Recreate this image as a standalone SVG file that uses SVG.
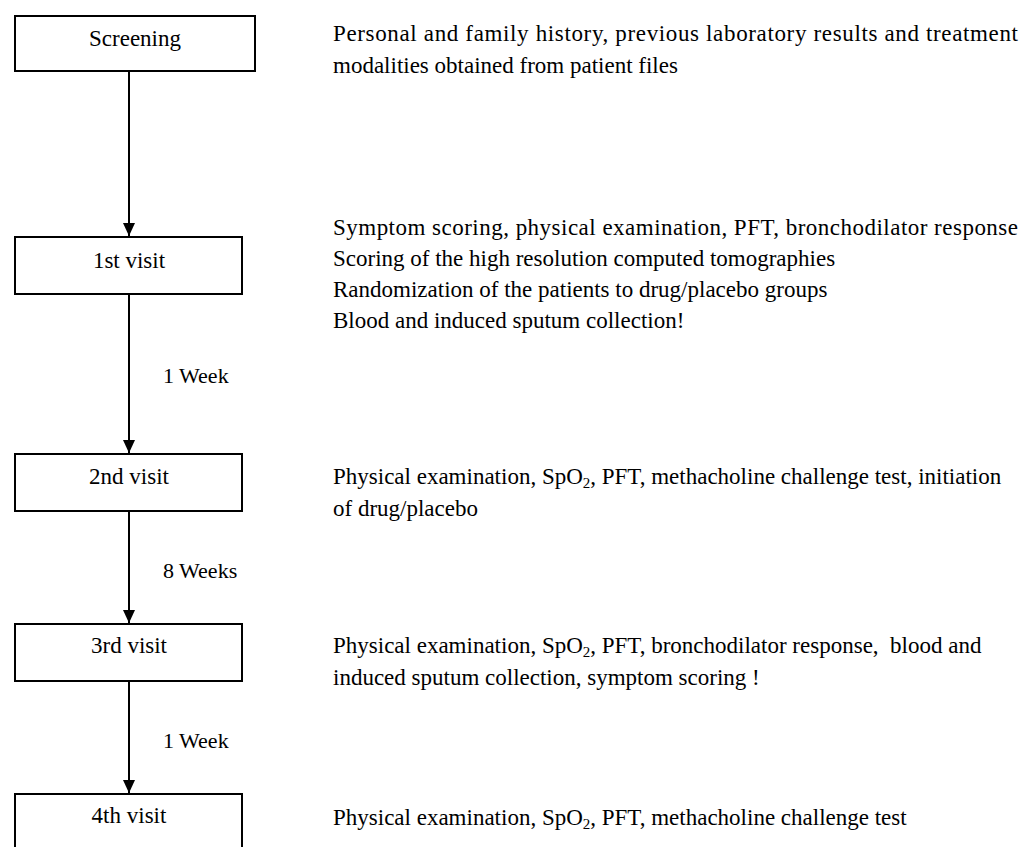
<svg xmlns="http://www.w3.org/2000/svg" width="1022" height="847" viewBox="0 0 1022 847">
<style>
text{font-family:"Liberation Serif","Times New Roman",serif;font-size:23px;fill:#000}
.box{fill:#fff;stroke:#000;stroke-width:2}
.lbl{text-anchor:middle}
.wk{font-size:22px}
.conn{stroke:#000;stroke-width:2;fill:none;marker-end:url(#ah)}
.sub{font-size:15px}
</style>
<defs>
<marker id="ah" markerWidth="13" markerHeight="12" refX="13" refY="6" orient="auto" markerUnits="userSpaceOnUse">
<path d="M0,0 L13,6 L0,12 Z" fill="#000"/>
</marker>
</defs>
<rect width="1022" height="847" fill="#fff"/>
<g id="connectors">
<line class="conn" x1="129" y1="71" x2="129" y2="236"/>
<line class="conn" x1="129" y1="294" x2="129" y2="453"/>
<line class="conn" x1="129" y1="511" x2="129" y2="623"/>
<line class="conn" x1="129" y1="681" x2="129" y2="793"/>
<text class="wk" x="163" y="383">1 Week</text>
<text class="wk" x="163" y="578">8 Weeks</text>
<text class="wk" x="163" y="748">1 Week</text>
</g>
<g id="screening">
<rect class="box" x="15" y="16" width="240" height="55"/>
<text class="lbl" x="135" y="46">Screening</text>
<text x="333" y="41" textLength="685" lengthAdjust="spacing">Personal and family history, previous laboratory results and treatment</text>
<text x="333" y="73">modalities obtained from patient files</text>
</g>
<g id="visit1">
<rect class="box" x="15" y="237" width="227" height="57"/>
<text class="lbl" x="129" y="268">1st visit</text>
<text x="333" y="235" textLength="685" lengthAdjust="spacing">Symptom scoring, physical examination, PFT, bronchodilator response</text>
<text x="333" y="266">Scoring of the high resolution computed tomographies</text>
<text x="333" y="297">Randomization of the patients to drug/placebo groups</text>
<text x="333" y="328">Blood and induced sputum collection!</text>
</g>
<g id="visit2">
<rect class="box" x="15" y="454" width="227" height="57"/>
<text class="lbl" x="129" y="484">2nd visit</text>
<text x="333" y="484">Physical examination, SpO<tspan class="sub" dy="4">2</tspan><tspan dy="-4">, PFT, methacholine challenge test, initiation</tspan></text>
<text x="333" y="516">of drug/placebo</text>
</g>
<g id="visit3">
<rect class="box" x="15" y="624" width="227" height="57"/>
<text class="lbl" x="129" y="653">3rd visit</text>
<text x="333" y="653" style="white-space:pre">Physical examination, SpO<tspan class="sub" dy="4">2</tspan><tspan dy="-4">, PFT, bronchodilator response,  blood and</tspan></text>
<text x="333" y="685">induced sputum collection, symptom scoring !</text>
</g>
<g id="visit4">
<rect class="box" x="15" y="794" width="227" height="60"/>
<text class="lbl" x="129" y="823">4th visit</text>
<text x="333" y="825">Physical examination, SpO<tspan class="sub" dy="4">2</tspan><tspan dy="-4">, PFT, methacholine challenge test</tspan></text>
</g>
</svg>
